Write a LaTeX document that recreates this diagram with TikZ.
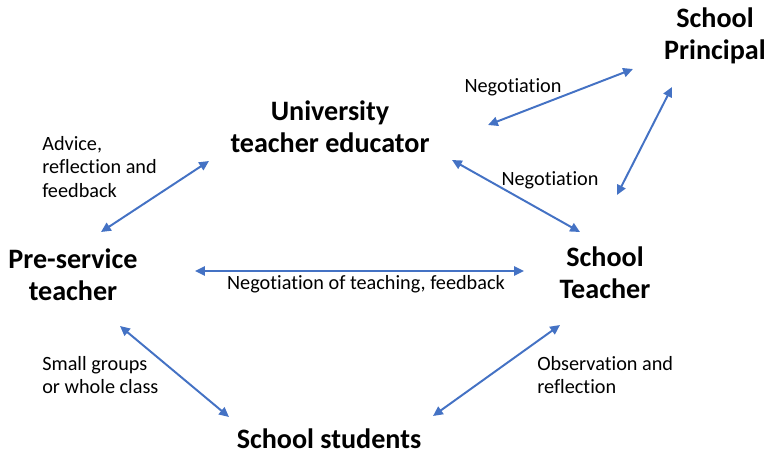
\documentclass[tikz,border=0pt]{standalone}
\usepackage{fontspec}
\setmainfont{Carlito}[Ligatures=NoCommon]
\usetikzlibrary{arrows.meta}
\definecolor{linkblue}{RGB}{68,114,196}

\begin{document}
\begin{tikzpicture}[x=0.025cm, y=-0.025cm,
		role/.style = {align=center, inner sep=0pt, font=\fontsize{20}{23}\selectfont\bfseries},
		label/.style = {align=left, inner sep=0pt, font=\fontsize{14.4}{17}\selectfont},
		link/.style = {{Triangle[length=7pt,width=6.5pt]}-{Triangle[length=7pt,width=6.5pt]}, draw=linkblue, line width=1.4pt}]
		\useasboundingbox (0,0) rectangle (768,454);
		
		% the five roles
		\node[role] (uni) at (330,127) {University\\teacher educator};
		\node[role] (prin) at (715,36) {School\\Principal};
		\node[role] (pre) at (73,275) {Pre-service\\teacher};
		\node[role] (teach) at (605,273) {School\\Teacher};
		\node[role] (stud) at (329,439) {School students};
		
		% what goes on between them
		\node[label] (negprin) at (513,87) {Negotiation};
		\node[label] (negteach) at (550,180) {Negotiation};
		\node[label, anchor=west] (advice) at (42,167) {Advice,\\reflection and\\feedback};
		\node[label] (negfeed) at (366,284) {Negotiation of teaching, feedback};
		\node[label, anchor=west] (groups) at (42,375) {Small groups\\or whole class};
		\node[label, anchor=west] (observe) at (537,375) {Observation and\\reflection};
		
		\draw[link] ([shift={(158,-2)}]uni.center) -- ([shift={(-82,33)}]prin.center);
		\draw[link] ([shift={(122,33)}]uni.center) -- ([shift={(-25,-41)}]teach.center);
		\draw[link] ([shift={(-43,51)}]prin.center) -- ([shift={(12,-78)}]teach.center);
		\draw[link] ([shift={(-121,34)}]uni.center) -- ([shift={(28,-43)}]pre.center);
		\draw[link] ([shift={(122,-4)}]pre.center) -- ([shift={(-81,-2)}]teach.center);
		\draw[link] ([shift={(47,51)}]pre.center) -- ([shift={(-100,-22)}]stud.center);
		\draw[link] ([shift={(-45,52)}]teach.center) -- ([shift={(104,-23)}]stud.center);
		\end{tikzpicture}
\end{document}
